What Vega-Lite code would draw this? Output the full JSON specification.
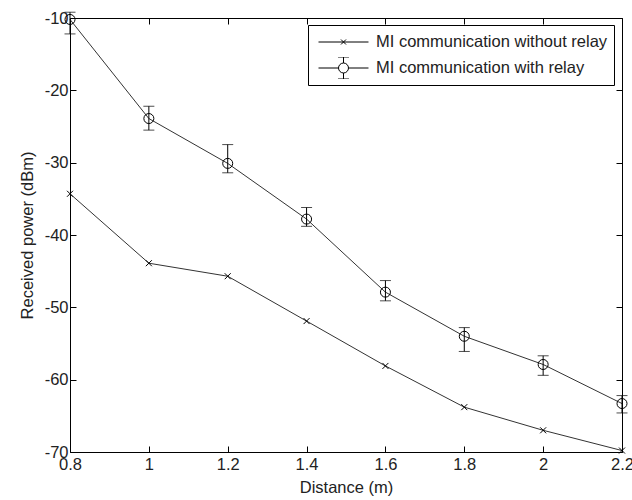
{
  "$schema": "https://vega.github.io/schema/vega-lite/v6.json",
  "width": 552,
  "height": 434,
  "autosize": {"type": "none"},
  "padding": {"left": 70, "top": 18, "right": 10, "bottom": 48},
  "background": "white",
  "config": {
    "view": {"stroke": null},
    "font": "Liberation Sans",
    "axis": {
      "grid": false,
      "domainColor": "black",
      "domainWidth": 1,
      "tickColor": "black",
      "tickWidth": 1,
      "tickSize": -6,
      "labelFont": "Liberation Sans",
      "labelFontSize": 16.5,
      "labelColor": "#222",
      "labelFlush": false,
      "labelOverlap": false,
      "labelExpr": "'' + datum.value",
      "titleFont": "Liberation Sans",
      "titleFontSize": 16.5,
      "titleFontWeight": "normal",
      "titleColor": "#222"
    },
    "legend": {
      "orient": "none",
      "legendX": 238,
      "legendY": 7,
      "padding": 6,
      "strokeColor": "black",
      "fillColor": "white",
      "symbolSize": 3364,
      "clipHeight": 22,
      "rowPadding": 4,
      "labelFont": "Liberation Sans",
      "labelFontSize": 16.5,
      "labelColor": "#222",
      "labelOffset": 3,
      "labelLimit": 400,
      "symbolStrokeColor": "black",
      "symbolFillColor": "transparent",
      "symbolStrokeWidth": 1,
      "symbolOpacity": 1
    }
  },
  "data": {
    "values": [
      {"s": "MI communication without relay", "d": 0.8, "p": -34.3},
      {"s": "MI communication without relay", "d": 1.0, "p": -43.9},
      {"s": "MI communication without relay", "d": 1.2, "p": -45.7},
      {"s": "MI communication without relay", "d": 1.4, "p": -51.9},
      {"s": "MI communication without relay", "d": 1.6, "p": -58.1},
      {"s": "MI communication without relay", "d": 1.8, "p": -63.8},
      {"s": "MI communication without relay", "d": 2.0, "p": -67.0},
      {"s": "MI communication without relay", "d": 2.2, "p": -69.8},
      {"s": "MI communication with relay", "d": 0.8, "p": -10.2, "lo": -12.2, "hi": -9.2},
      {"s": "MI communication with relay", "d": 1.0, "p": -23.9, "lo": -25.5, "hi": -22.2},
      {"s": "MI communication with relay", "d": 1.2, "p": -30.1, "lo": -31.4, "hi": -27.5},
      {"s": "MI communication with relay", "d": 1.4, "p": -37.8, "lo": -38.8, "hi": -36.2},
      {"s": "MI communication with relay", "d": 1.6, "p": -47.9, "lo": -49.1, "hi": -46.3},
      {"s": "MI communication with relay", "d": 1.8, "p": -54.0, "lo": -56.1, "hi": -52.8},
      {"s": "MI communication with relay", "d": 2.0, "p": -57.9, "lo": -59.4, "hi": -56.7},
      {"s": "MI communication with relay", "d": 2.2, "p": -63.3, "lo": -64.6, "hi": -62.2}
    ]
  },
  "layer": [
    {
      "mark": {"type": "line", "color": "#333", "strokeWidth": 1},
      "encoding": {
        "x": {"field": "d", "type": "quantitative", "scale": {"domain": [0.8, 2.2], "nice": false, "zero": false},
              "axis": {"orient": "bottom", "values": [0.8, 1, 1.2, 1.4, 1.6, 1.8, 2, 2.2], "title": "Distance (m)", "labelPadding": 10, "titlePadding": 7}},
        "y": {"field": "p", "type": "quantitative", "scale": {"domain": [-70, -10], "nice": false, "zero": false},
              "axis": {"orient": "left", "values": [-70, -60, -50, -40, -30, -20, -10], "title": "Received power (dBm)", "labelPadding": 8, "titlePadding": 9}},
        "detail": {"field": "s"}
      }
    },
    {
      "transform": [{"filter": "isValid(datum.lo)"}],
      "mark": {"type": "rule", "color": "black", "strokeWidth": 1, "clip": false},
      "encoding": {
        "x": {"field": "d", "type": "quantitative", "axis": null},
        "y": {"field": "lo", "type": "quantitative", "axis": null},
        "y2": {"field": "hi"}
      }
    },
    {
      "transform": [{"filter": "isValid(datum.lo)"}],
      "mark": {"type": "tick", "color": "black", "orient": "horizontal", "size": 11, "thickness": 1},
      "encoding": {
        "x": {"field": "d", "type": "quantitative", "axis": null},
        "y": {"field": "lo", "type": "quantitative", "axis": null}
      }
    },
    {
      "transform": [{"filter": "isValid(datum.hi)"}],
      "mark": {"type": "tick", "color": "black", "orient": "horizontal", "size": 11, "thickness": 1},
      "encoding": {
        "x": {"field": "d", "type": "quantitative", "axis": null},
        "y": {"field": "hi", "type": "quantitative", "axis": null}
      }
    },
    {
      "transform": [{"filter": "datum.s === 'MI communication without relay'"}],
      "mark": {"type": "point", "filled": false, "color": "black", "strokeWidth": 1, "opacity": 1, "size": 36, "shape": "M-1,-1L1,1M-1,1L1,-1"},
      "encoding": {
        "x": {"field": "d", "type": "quantitative", "axis": null},
        "y": {"field": "p", "type": "quantitative", "axis": null}
      }
    },
    {
      "transform": [{"filter": "datum.s === 'MI communication with relay'"}],
      "mark": {"type": "point", "filled": false, "color": "black", "strokeWidth": 1, "opacity": 1, "size": 100, "shape": "circle"},
      "encoding": {
        "x": {"field": "d", "type": "quantitative", "axis": null},
        "y": {"field": "p", "type": "quantitative", "axis": null}
      }
    },
    {
      "mark": {"type": "point", "filled": false, "color": "black", "strokeWidth": 1, "opacity": 1, "size": 0},
      "encoding": {
        "x": {"field": "d", "type": "quantitative", "axis": {"orient": "top", "labels": false, "title": null, "values": [0.8, 1, 1.2, 1.4, 1.6, 1.8, 2, 2.2]}},
        "y": {"field": "p", "type": "quantitative", "axis": {"orient": "right", "labels": false, "title": null, "values": [-70, -60, -50, -40, -30, -20, -10]}},
        "shape": {
          "field": "s", "type": "nominal",
          "scale": {
            "domain": ["MI communication without relay", "MI communication with relay"],
            "range": [
              "M-0.862,0H0.862M-0.086,-0.086L0.086,0.086M-0.086,0.086L0.086,-0.086",
              "M-0.862,0H-0.172M0.172,0H0.862M-0.172,0A0.172,0.172 0 1 1 0.172,0A0.172,0.172 0 1 1 -0.172,0M0,-0.38V-0.172M0,0.172V0.38M-0.19,-0.38H0.19M-0.19,0.38H0.19"
            ]
          },
          "legend": {"title": null}
        }
      }
    }
  ],
  "resolve": {"axis": {"x": "independent", "y": "independent"}}
}
